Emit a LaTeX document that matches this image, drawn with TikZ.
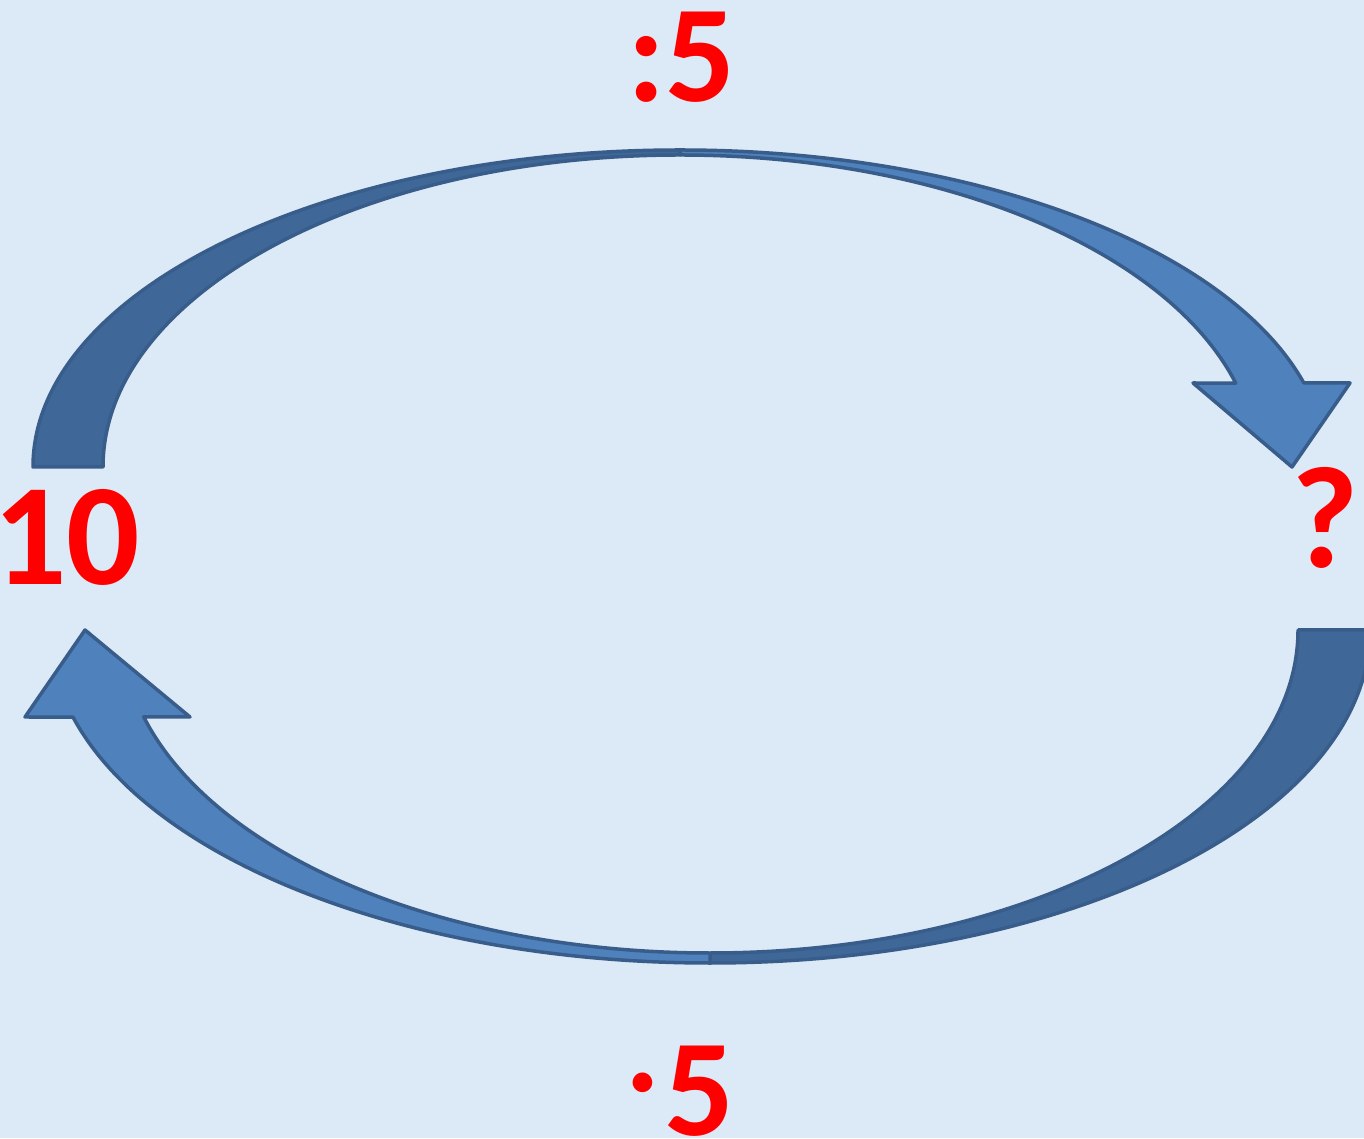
\documentclass[tikz,border=0pt]{standalone}
\usepackage{fontspec}
\setmainfont{Carlito}
\usetikzlibrary{calc}
\definecolor{bgIce}{HTML}{DCE9F6}
\definecolor{arrBack}{HTML}{3F6899}
\definecolor{arrFront}{HTML}{4F81BD}
\definecolor{arrLine}{HTML}{385D8A}
\definecolor{numRed}{HTML}{FF0000}
\tikzset{
  backband/.style  = {fill=arrBack, draw=arrLine, line width=3.5pt, line join=round},
  frontband/.style = {fill=arrFront, draw=arrLine, line width=3.5pt, line join=round},
  num/.style       = {font=\bfseries\fontsize{145}{150}\selectfont, text=numRed,
                      inner sep=0, anchor=base, text height=0.64em, text depth=0pt},
  op/.style        = {num, font=\bfseries\fontsize{138}{144}\selectfont},
}
\begin{document}
\begin{tikzpicture}[x=1pt, y=1pt]

% canvas: 1364 x 1138, origin bottom left
\useasboundingbox (0,0) rectangle (1364,1138);
\clip (0,0) rectangle (1364,1138);
\fill[bgIce] (0,0) rectangle (1364,1138);

% --- upper arrow: 10 -> ? ---
\def\cxA{680}   % centre of both ellipses
\def\cyA{671}
% back half (seen from behind, darker)
\draw[backband]
  (\cxA-647,\cyA) arc[start angle=180, end angle=90, x radius=647, y radius=317]
  -- (\cxA,\cyA+312) arc[start angle=90, end angle=180, x radius=577, y radius=312]
  -- cycle;
% front half with the head
\draw[frontband]
  (\cxA,\cyA+317) arc[start angle=90, end angle=15.4, x radius=647, y radius=317]
  -- (1350,755) -- (1292,671) -- (1193,755)
  -- ($(\cxA,\cyA)+(15.6:577 and 312)$)
  arc[start angle=15.6, end angle=90, x radius=577, y radius=312]
  -- cycle;

% --- lower arrow: ? -> 10 ---
\def\cxB{710}
\def\cyB{508}
% back half
\draw[backband]
  (\cxB+660,\cyB) arc[start angle=0, end angle=-90, x radius=660, y radius=333]
  -- (\cxB,\cyB-323) arc[start angle=-90, end angle=0, x radius=588, y radius=323]
  -- cycle;
% front half with the head
\draw[frontband]
  (\cxB,\cyB-333) arc[start angle=-90, end angle=-164.85, x radius=660, y radius=333]
  -- (25,421) -- (85,508) -- (190,421)
  -- ($(\cxB,\cyB)+(-164.4:588 and 323)$)
  arc[start angle=-164.4, end angle=-90, x radius=588, y radius=323]
  -- cycle;

% --- numbers and operations ---
\node[num, anchor=base west] (ten) at (6,553) {\kern-0.09em 10};
\node[num] (unknown) at (1325,570) {?};
\node[op]  (divop)   at (681,1036) {:5};
\node[op]  (mulop)   at (680,3)    {\raisebox{0.1em}{\mdseries·}\kern0.03em 5};

\end{tikzpicture}
\end{document}
